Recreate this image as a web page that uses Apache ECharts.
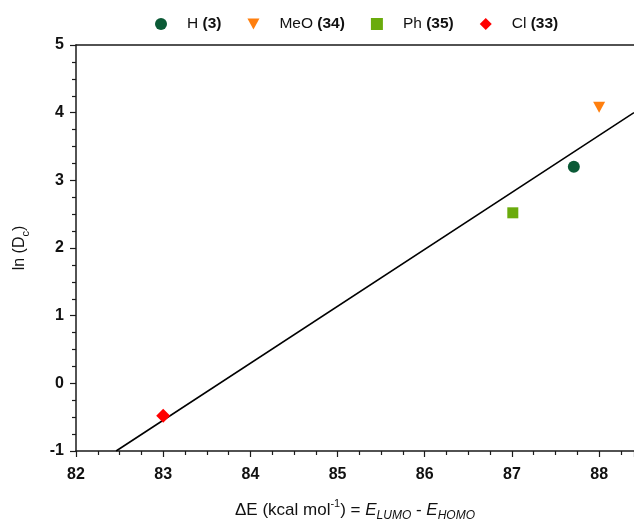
<!DOCTYPE html>
<html>
<head>
<meta charset="utf-8">
<script src="https://cdn.jsdelivr.net/npm/echarts@6/dist/echarts.min.js"></script>
<style>
html,body{margin:0;padding:0;background:#fff;}
#c{width:634px;height:525px;}
</style>
</head>
<body>
<div id="c"></div>
<script>
const seriesNames = ['H (3)', 'MeO (34)', 'Ph (35)', 'Cl (33)'];
const seriesX = [87.71, 88.0, 87.01, 83.0];
const seriesY = [3.20, 4.08, 2.52, -0.48];
const fitX = [82.46, 88.4];
const fitY = [-1.0, 4.0];
const xTicks = [82, 83, 84, 85, 86, 87, 88];
const yTicks = [-1, 0, 1, 2, 3, 4, 5];

const colors = ['#0b5a36', '#ff7f0e', '#6aab0c', '#ff0000'];
const triDown = 'path://M0,0 L10,0 L5,9 Z';
const symbols = ['circle', triDown, 'rect', 'diamond'];
const sizes = [12, [12, 11], 11, 14];

const font = '"Liberation Sans", Arial, sans-serif';

const chart = echarts.init(document.getElementById('c'), null, {renderer: 'canvas'});

const scatterSeries = seriesNames.map((n, i) => ({
  name: n,
  type: 'scatter',
  symbol: symbols[i],
  symbolSize: sizes[i],
  itemStyle: {color: colors[i], opacity: 1},
  data: [[seriesX[i], seriesY[i]]],
  z: 3
}));

const axisCommon = {
  axisLine: {show: true, onZero: false, lineStyle: {color: '#1a1a1a', width: 1.5}},
  axisTick: {show: true, inside: false, length: 6, lineStyle: {color: '#1a1a1a', width: 1.2}},
  minorTick: {show: true, splitNumber: 4, length: 4, lineStyle: {color: '#1a1a1a', width: 1.2}},
  splitLine: {show: false},
  axisLabel: {color: '#111', fontFamily: font, fontWeight: 'bold', fontSize: 16}
};

chart.setOption({
  animation: false,
  backgroundColor: '#fff',
  textStyle: {fontFamily: font},
  grid: {left: 76, right: 0, top: 45, bottom: 74, containLabel: false, outerBoundsMode: 'none'},
  legend: {
    show: true,
    left: 150,
    top: 11,
    itemWidth: 12,
    itemHeight: 12,
    itemGap: 26,
    data: seriesNames.map((n, i) => ({name: n, icon: symbols[i]})),
    formatter: function (name) {
      const m = name.match(/^(\S+)\s+(.*)$/);
      return '{n|' + m[1] + '} {b|' + m[2] + '}';
    },
    textStyle: {
      fontFamily: font,
      fontSize: 15.5,
      color: '#111',
      rich: {
        n: {fontFamily: font, fontSize: 15.5, color: '#111', padding: [0, 0, 0, 15]},
        b: {fontFamily: font, fontSize: 15.5, fontWeight: 'bold', color: '#111'}
      }
    }
  },
  xAxis: [{
    type: 'value',
    min: 82,
    max: 88.4,
    interval: 1,
    position: 'bottom',
    ...axisCommon,
    axisLabel: {...axisCommon.axisLabel, margin: 16,
      formatter: v => (xTicks.indexOf(v) >= 0 ? String(v) : '')},
    name: '{a|ΔE (kcal mol}{sup|-1}{a|) = }{i|E}{sub|LUMO}{a| - }{i|E}{sub|HOMO}',
    nameLocation: 'middle',
    nameGap: 47,
    nameTextStyle: {
      fontFamily: font,
      color: '#111',
      rich: {
        a: {fontFamily: font, fontSize: 17, color: '#111', lineHeight: 24, verticalAlign: 'middle'},
        i: {fontFamily: font, fontSize: 17, fontStyle: 'italic', color: '#111', lineHeight: 24, verticalAlign: 'middle'},
        sup: {fontFamily: font, fontSize: 11, color: '#111', verticalAlign: 'top', lineHeight: 12, padding: [0, 0, 8, 0]},
        sub: {fontFamily: font, fontSize: 12, fontStyle: 'italic', color: '#111', verticalAlign: 'bottom', lineHeight: 12, padding: [8, 0, 0, 0]}
      }
    }
  }, {
    type: 'value',
    min: 82,
    max: 88.4,
    position: 'top',
    axisLine: {show: true, onZero: false, lineStyle: {color: '#1a1a1a', width: 1.5}},
    axisTick: {show: false},
    axisLabel: {show: false},
    splitLine: {show: false}
  }],
  yAxis: {
    type: 'value',
    min: -1,
    max: 5,
    interval: 1,
    ...axisCommon,
    axisLabel: {...axisCommon.axisLabel, margin: 12,
      formatter: v => (yTicks.indexOf(v) >= 0 ? String(v) : '')},
    name: '{a|ln (D}{sub|c}{a|)}',
    nameLocation: 'middle',
    nameGap: 45,
    nameRotate: 90,
    nameTextStyle: {
      fontFamily: font,
      color: '#111',
      rich: {
        a: {fontFamily: font, fontSize: 16, color: '#111', lineHeight: 22, verticalAlign: 'middle'},
        sub: {fontFamily: font, fontSize: 11, color: '#111', verticalAlign: 'bottom', lineHeight: 11, padding: [7, 0, 0, 0]}
      }
    }
  },
  series: [
    {
      name: 'fit',
      type: 'line',
      data: fitX.map((x, i) => [x, fitY[i]]),
      showSymbol: false,
      symbol: 'none',
      lineStyle: {color: '#000', width: 1.6},
      z: 2,
      silent: true
    },
    ...scatterSeries
  ]
});
</script>
</body>
</html>
